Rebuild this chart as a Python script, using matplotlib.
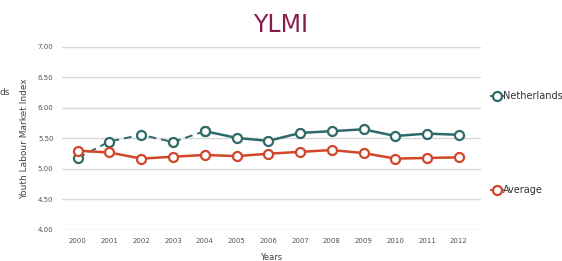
import matplotlib.pyplot as plt
from matplotlib.lines import Line2D

years = list(range(2000, 2013))
netherlands = [5.18, 5.45, 5.56, 5.44, 5.62, 5.51, 5.46, 5.59, 5.62, 5.65, 5.54, 5.58, 5.56]
average = [5.30, 5.27, 5.17, 5.20, 5.23, 5.21, 5.25, 5.28, 5.31, 5.26, 5.17, 5.18, 5.19]
dash_until = 2004  # Netherlands drawn dashed up to this year

teal = '#2e6a6a'
red = '#d2462a'

fig = plt.figure(figsize=(5.62, 2.61), dpi=100)
ax = fig.add_axes([0.110, 0.119, 0.746, 0.701])

i = years.index(dash_until)
mk = dict(marker='o', markersize=6.5, markerfacecolor='white', markeredgewidth=1.6)
ax.plot(years[:i + 1], netherlands[:i + 1], color=teal, lw=1.4, ls=(0, (4, 2.5)), zorder=3, **mk)
ax.plot(years[i:], netherlands[i:], color=teal, lw=1.8, zorder=3, **mk)
ax.plot(years, average, color=red, lw=1.8, zorder=3, **mk)

ax.set_ylim(4.0, 7.0)
ax.set_xlim(1999.5, 2012.7)
ax.set_yticks([4.0, 4.5, 5.0, 5.5, 6.0, 6.5, 7.0])
ax.set_yticklabels(['%.2f' % v for v in ax.get_yticks()])
ax.set_xticks(years)
ax.tick_params(axis='both', labelsize=5, length=0, colors='#555555', pad=6)
ax.yaxis.grid(color='#d9d9d9', lw=1.0)
for s in ax.spines.values():
    s.set_visible(False)

ax.set_ylabel('Youth Labour Market Index', fontsize=6.5, color='#444444', labelpad=6)
ax.set_xlabel('Years', fontsize=6, color='#444444', labelpad=6)

fig.text(0.5, 0.905, 'YLMI', ha='center', va='center', fontsize=17, color='#8a1c4c')
fig.text(0.0, 0.645, 'ds', ha='left', va='center', fontsize=6.5, color='#444444')

h1 = Line2D([], [], color=teal, lw=1.4, **mk)
h2 = Line2D([], [], color=red, lw=1.4, **mk)
leg1 = fig.legend(handles=[h1], labels=['Netherlands'], loc='center left',
                  bbox_to_anchor=(0.865, 0.632), frameon=False, fontsize=7,
                  handlelength=1.2, handletextpad=0.0, borderpad=0)
leg2 = fig.legend(handles=[h2], labels=['Average'], loc='center left',
                  bbox_to_anchor=(0.865, 0.272), frameon=False, fontsize=7,
                  handlelength=1.2, handletextpad=0.0, borderpad=0)
for leg in (leg1, leg2):
    for t in leg.get_texts():
        t.set_color('#333333')

fig.savefig('out.png', dpi=100)
